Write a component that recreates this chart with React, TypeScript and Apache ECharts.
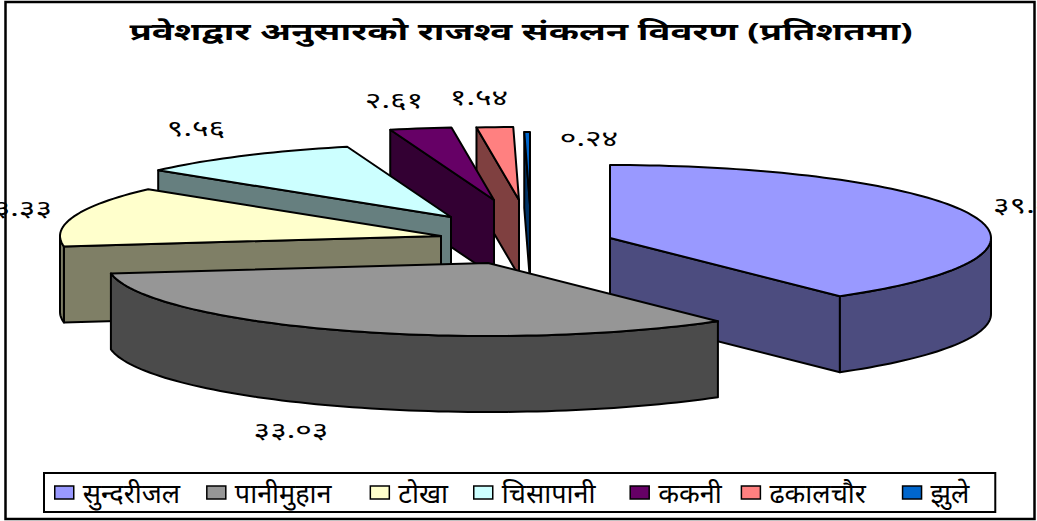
import React, { useEffect, useRef } from "react";
import * as echarts from "echarts";

const TITLE = "प्रवेशद्वार अनुसारको राजश्व संकलन विवरण (प्रतिशतमा)";
const NAMES = ["सुन्दरीजल", "पानीमुहान", "टोखा", "चिसापानी", "ककनी", "ढकालचौर", "झुले"];
const VALUES = [39.69, 33.03, 13.33, 9.56, 2.61, 1.54, 0.24];
const LABELS = ["३९.६९", "३३.०३", "१३.३३", "९.५६", "२.६१", "१.५४", "०.२४"];
const COLORS = ["#9999FF", "#969696", "#FFFFCC", "#CCFFFF", "#660066", "#FF8080", "#0066CC"];
const WALLS = ["#4C4C7F", "#4B4B4B", "#7F7F66", "#667F7F", "#330033", "#7F4040", "#003366"];

// pie layout
const FONT = "'Noto Sans', 'Noto Sans Devanagari', 'Lohit Devanagari', FreeSans, sans-serif";
const CX = 524, CY = 232, RX = 381, RY = 73, DEPTH = 76;
const EXPLODE = [[86, 6], [-36, 31], [-83, 4], [-73, -15], [-30, -32], [-5, -32], [6, -27]];
const LABEL_AT: [number, number, string][] = [
  [993, 205, "left"], [291, 430, "center"], [52, 208, "right"], [196, 128, "center"],
  [394, 100, "center"], [479, 97, "center"], [589, 138, "center"],
];
const DRAW_ORDER = [1, 6, 5, 4, 3, 2, 0];
const LEGEND_PAD = [8, 20, 7, 16, 1, 18, 0];

const TOTAL = VALUES.reduce((a, b) => a + b, 0);

function renderSlice(i: number) {
  return (_p: any, api: any) => {
    const before = VALUES.slice(0, i).reduce((a, b) => a + b, 0);
    const a0 = (before / TOTAL) * 360;
    const a1 = a0 + (api.value(0) / TOTAL) * 360;
    const ax = CX + EXPLODE[i][0];
    const ay = CY + EXPLODE[i][1];
    const pt = (deg: number, drop = 0): number[] => {
      const r = (deg * Math.PI) / 180;
      return [ax + RX * Math.sin(r), ay - RY * Math.cos(r) + drop];
    };
    const arc = (from: number, to: number, drop = 0) => {
      const n = Math.max(2, Math.ceil((to - from) / 1.5));
      const out: number[][] = [];
      for (let k = 0; k <= n; k++) out.push(pt(from + ((to - from) * k) / n, drop));
      return out;
    };
    const edge = { stroke: "#000", lineWidth: 2, lineJoin: "round" };
    const children: any[] = [];
    const wall = (deg: number) => ({
      type: "polygon",
      shape: { points: [[ax, ay], pt(deg), pt(deg, DEPTH), [ax, ay + DEPTH]] },
      style: { fill: WALLS[i], ...edge },
    });
    if (a0 >= 180 && a0 < 360) children.push(wall(a0));
    if (a1 > 0 && a1 <= 180) children.push(wall(a1));
    const rimFrom = Math.max(a0, 90);
    const rimTo = Math.min(a1, 270);
    if (rimTo > rimFrom) {
      children.push({
        type: "polygon",
        shape: { points: [...arc(rimFrom, rimTo), ...arc(rimFrom, rimTo, DEPTH).reverse()] },
        style: { fill: WALLS[i], ...edge },
      });
    }
    children.push({
      type: "polygon",
      shape: { points: [[ax, ay], ...arc(a0, a1)] },
      style: { fill: COLORS[i], ...edge },
    });
    const [lx, ly, align] = LABEL_AT[i];
    children.push({
      type: "text",
      x: lx,
      y: ly,
      scaleX: 1.45,
      style: {
        text: LABELS[i],
        font: `22px ${FONT}`,
        fill: "#000",
        align,
        verticalAlign: "middle",
      },
    });
    return { type: "group", children };
  };
}

export default function App() {
  const ref = useRef<HTMLDivElement>(null);
  useEffect(() => {
    document.body.style.margin = "0";
    const chart = echarts.init(ref.current!, null, { renderer: "svg" });
    chart.setOption({
      animation: false,
      backgroundColor: "#fff",
      graphic: [
        {
          type: "rect",
          z: -10,
          silent: true,
          shape: { x: 5.5, y: 2, width: 1029, height: 517 },
          style: { fill: "#fff", stroke: "#000", lineWidth: 2.5 },
        },
        {
          type: "text",
          x: 521,
          y: 31,
          scaleX: 1.52,
          z: 10,
          style: {
            text: TITLE,
            font: `bold 24px ${FONT}`,
            fill: "#000",
            align: "center",
            verticalAlign: "middle",
          },
        },
      ],
      legend: {
        data: NAMES.map((name, i) => ({
          name,
          textStyle: { padding: [0, LEGEND_PAD[i], 0, 4], backgroundColor: "rgba(255,255,255,0)" },
        })),
        left: 44,
        top: 473,
        padding: [6, 26, 6, 10],
        borderColor: "#000",
        borderWidth: 2,
        backgroundColor: "#fff",
        icon: "rect",
        itemWidth: 19,
        itemHeight: 13,
        itemGap: 18,
        itemStyle: { borderColor: "#000", borderWidth: 1.5 },
        textStyle: { fontFamily: FONT, fontSize: 27, color: "#000" },
        selectedMode: false,
      },
      series: NAMES.map((name, i) => ({
        type: "custom",
        name,
        coordinateSystem: "none",
        z: 2 + DRAW_ORDER[i],
        silent: true,
        itemStyle: { color: COLORS[i] },
        data: [[VALUES[i]]],
        renderItem: renderSlice(i),
      })),
    });
    return () => chart.dispose();
  }, []);
  return <div ref={ref} style={{ position: "absolute", left: 0, top: 0, width: 1037, height: 521 }} />;
}
